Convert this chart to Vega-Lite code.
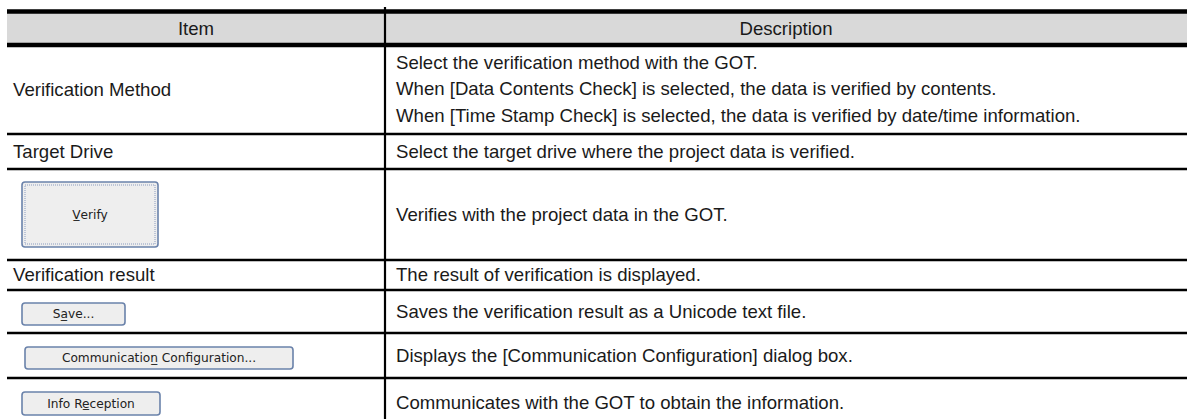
{
  "$schema": "https://vega.github.io/schema/vega-lite/v6.json",
  "width": 1191,
  "height": 419,
  "autosize": "none",
  "padding": 0,
  "background": "#ffffff",
  "config": {"view": {"stroke": null}, "axis": {"disable": true}, "legend": {"disable": true}},
  "datasets": {
    "header": [{"x1": 7, "x2": 1187, "y1": 13, "y2": 44, "item": "Item", "desc": "Description", "itemx": 196, "descx": 786, "yc": 28.5}],
    "rows": [
      {"item": "Verification Method", "desc": "Select the verification method with the GOT.\nWhen [Data Contents Check] is selected, the data is verified by contents.\nWhen [Time Stamp Check] is selected, the data is verified by date/time information.", "top": 45, "bottom": 134, "hasButton": false},
      {"item": "Target Drive", "desc": "Select the target drive where the project data is verified.", "top": 134, "bottom": 169, "hasButton": false},
      {"item": "Verify", "desc": "Verifies with the project data in the GOT.", "top": 169, "bottom": 260, "hasButton": true},
      {"item": "Verification result", "desc": "The result of verification is displayed.", "top": 260, "bottom": 290, "hasButton": false},
      {"item": "Save...", "desc": "Saves the verification result as a Unicode text file.", "top": 290, "bottom": 333, "hasButton": true},
      {"item": "Communication Configuration...", "desc": "Displays the [Communication Configuration] dialog box.", "top": 333, "bottom": 378, "hasButton": true},
      {"item": "Info Reception", "desc": "Communicates with the GOT to obtain the information.", "top": 378, "bottom": 427, "hasButton": true}
    ],
    "buttons": [
      {"label": "V̲erify", "x1": 22, "x2": 158, "y1": 182, "y2": 247, "focus": true},
      {"label": "Sa̲ve...", "x1": 22, "x2": 125, "y1": 303, "y2": 325, "focus": false},
      {"label": "Communication̲ Configuration...", "x1": 25, "x2": 293, "y1": 347, "y2": 369, "focus": false},
      {"label": "Info Re̲ception", "x1": 22, "x2": 160, "y1": 392, "y2": 415, "focus": false}
    ],
    "borders": [{"y": 11.5}, {"y": 45}],
    "lines": [{"y": 134}, {"y": 169}, {"y": 260}, {"y": 290}, {"y": 333}, {"y": 378}],
    "divider": [{"x": 385, "y1": 7, "y2": 430}]
  },
  "layer": [
    {
      "data": {"name": "header"},
      "mark": {"type": "rect", "fill": "#d9d9d9"},
      "encoding": {
        "x": {"field": "x1", "type": "quantitative", "scale": {"domain": [0, 1191], "nice": false, "zero": false}},
        "x2": {"field": "x2"},
        "y": {"field": "y1", "type": "quantitative", "scale": {"domain": [0, 419], "reverse": true, "nice": false, "zero": false}},
        "y2": {"field": "y2"}
      }
    },
    {
      "data": {"name": "header"},
      "mark": {"type": "text", "font": "Liberation Sans", "fontSize": 18.6, "align": "center", "baseline": "middle", "color": "#1a1a1a"},
      "encoding": {
        "x": {"field": "itemx", "type": "quantitative"},
        "y": {"field": "yc", "type": "quantitative"},
        "text": {"field": "item"}
      }
    },
    {
      "data": {"name": "header"},
      "mark": {"type": "text", "font": "Liberation Sans", "fontSize": 18.6, "align": "center", "baseline": "middle", "color": "#1a1a1a"},
      "encoding": {
        "x": {"field": "descx", "type": "quantitative"},
        "y": {"field": "yc", "type": "quantitative"},
        "text": {"field": "desc"}
      }
    },
    {
      "data": {"name": "rows"},
      "transform": [{"filter": "!datum.hasButton"}, {"calculate": "(datum.top + datum.bottom) / 2", "as": "mid"}],
      "mark": {"type": "text", "font": "Liberation Sans", "fontSize": 18.6, "align": "left", "baseline": "middle", "color": "#1a1a1a", "x": 13},
      "encoding": {
        "y": {"field": "mid", "type": "quantitative"},
        "text": {"field": "item"}
      }
    },
    {
      "data": {"name": "rows"},
      "transform": [{"calculate": "(datum.top + datum.bottom) / 2 - (length(split(datum.desc, '\\n')) - 1) * 26.3 / 2", "as": "first"}],
      "mark": {"type": "text", "font": "Liberation Sans", "fontSize": 18.6, "align": "left", "baseline": "middle", "color": "#1a1a1a", "x": 396, "lineBreak": "\n", "lineHeight": 26.3},
      "encoding": {
        "y": {"field": "first", "type": "quantitative"},
        "text": {"field": "desc"}
      }
    },
    {
      "data": {"name": "buttons"},
      "mark": {"type": "rect", "fill": "#eeeeee", "stroke": "#6a82aa", "strokeWidth": 1.6, "cornerRadius": 3},
      "encoding": {
        "x": {"field": "x1", "type": "quantitative"},
        "x2": {"field": "x2"},
        "y": {"field": "y1", "type": "quantitative"},
        "y2": {"field": "y2"}
      }
    },
    {
      "data": {"name": "buttons"},
      "transform": [{"filter": "datum.focus"}, {"calculate": "datum.x1 + 3", "as": "ix1"}, {"calculate": "datum.x2 - 3", "as": "ix2"}, {"calculate": "datum.y1 + 3", "as": "iy1"}, {"calculate": "datum.y2 - 3", "as": "iy2"}],
      "mark": {"type": "rect", "fill": null, "fillOpacity": 0, "stroke": "#8a9cc0", "strokeWidth": 1, "strokeDash": [1, 1]},
      "encoding": {
        "x": {"field": "ix1", "type": "quantitative"},
        "x2": {"field": "ix2"},
        "y": {"field": "iy1", "type": "quantitative"},
        "y2": {"field": "iy2"}
      }
    },
    {
      "data": {"name": "buttons"},
      "transform": [{"calculate": "(datum.x1 + datum.x2) / 2", "as": "cx"}, {"calculate": "(datum.y1 + datum.y2) / 2", "as": "cy"}],
      "mark": {"type": "text", "font": "DejaVu Sans", "fontSize": 12.2, "align": "center", "baseline": "middle", "color": "#222222"},
      "encoding": {
        "x": {"field": "cx", "type": "quantitative"},
        "y": {"field": "cy", "type": "quantitative"},
        "text": {"field": "label"}
      }
    },
    {
      "data": {"name": "borders"},
      "mark": {"type": "rule", "color": "#000000", "strokeWidth": 4.5, "x": 7, "x2": 1187},
      "encoding": {
        "y": {"field": "y", "type": "quantitative"}
      }
    },
    {
      "data": {"name": "lines"},
      "mark": {"type": "rule", "color": "#000000", "strokeWidth": 2.6, "x": 7, "x2": 1187},
      "encoding": {
        "y": {"field": "y", "type": "quantitative"}
      }
    },
    {
      "data": {"name": "divider"},
      "mark": {"type": "rule", "color": "#000000", "strokeWidth": 2.2},
      "encoding": {
        "x": {"field": "x", "type": "quantitative"},
        "y": {"field": "y1", "type": "quantitative"},
        "y2": {"field": "y2"}
      }
    }
  ]
}
